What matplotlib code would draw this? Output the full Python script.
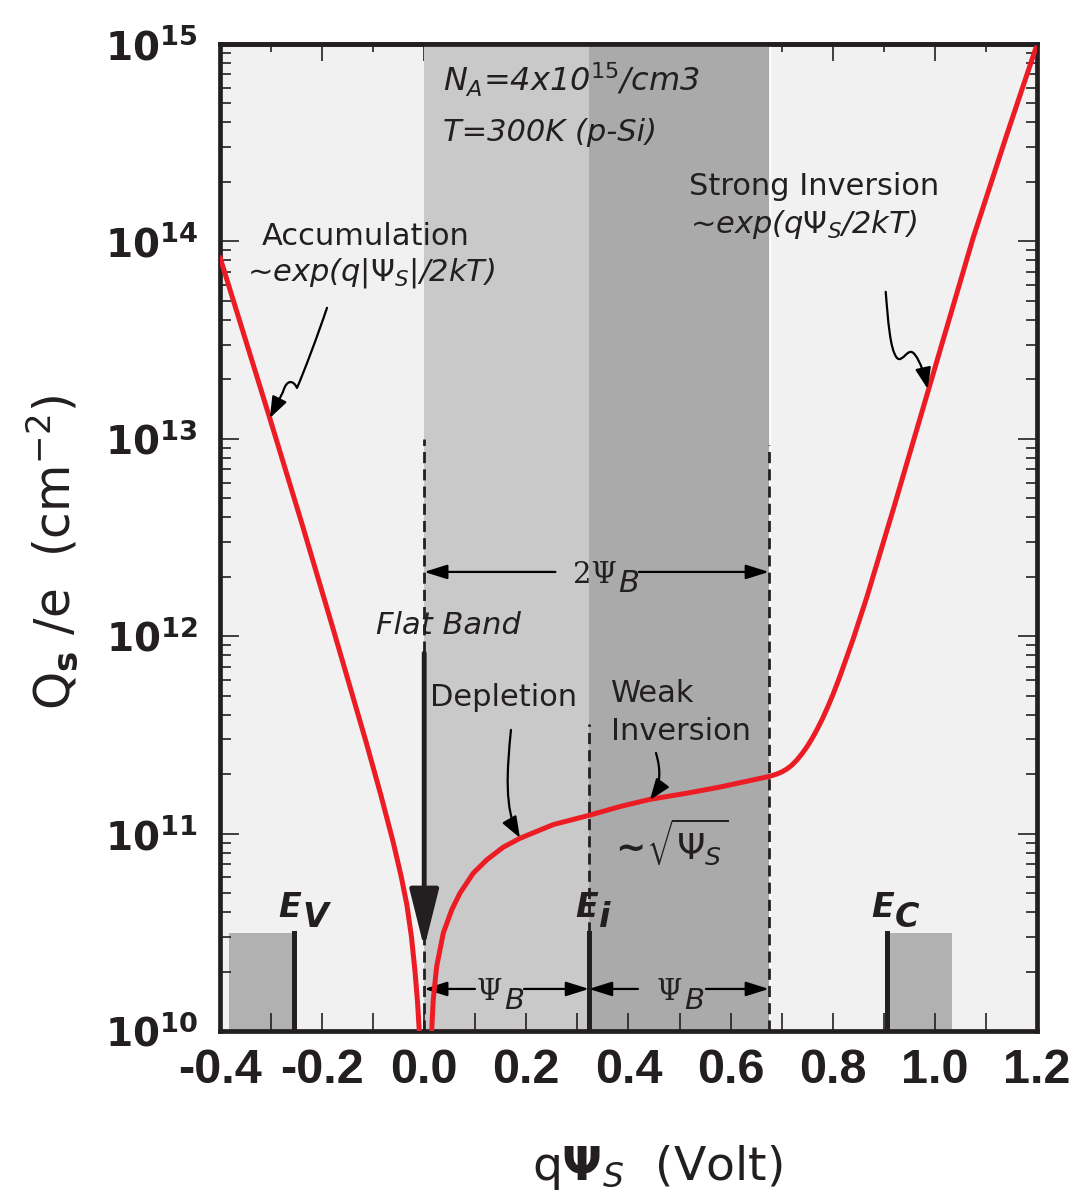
import numpy as np
import matplotlib
matplotlib.use("Agg")
import matplotlib.pyplot as plt
from matplotlib.ticker import MultipleLocator, LogLocator, NullFormatter
from matplotlib.path import Path
from matplotlib.patches import FancyArrowPatch

# surface charge Qs/e (cm^-2) vs surface potential (V)
acc_x = [-0.400, -0.302, -0.240, -0.178, -0.113, -0.085, -0.061, -0.045,
         -0.034, -0.025, -0.018, -0.013, -0.0097]
acc_q = [8.3e13, 1.26e13, 3.75e12, 1.08e12, 2.86e11, 1.57e11, 9.1e10, 6.05e10,
         4.36e10, 3.0e10, 2.0e10, 1.39e10, 1.0e10]

inv_x = [0.0146, 0.0177, 0.0244, 0.0373, 0.0538, 0.070, 0.0961, 0.1223, 0.1548, 0.1875,
         0.2528, 0.3246, 0.3834, 0.4421, 0.514, 0.5792, 0.677, 0.69, 0.70, 0.71,
         0.72, 0.73, 0.74, 0.75, 0.76, 0.77, 0.78, 0.79, 0.80, 0.814,
         0.84, 0.867, 0.919, 0.977, 1.075, 1.141, 1.198]
inv_q = [1.0e10, 1.44e10, 2.12e10, 3.13e10, 4.10e10, 4.99e10, 6.30e10, 7.35e10, 8.53e10, 9.46e10,
         1.11e11, 1.24e11, 1.37e11, 1.49e11, 1.60e11, 1.72e11, 1.95e11, 2.00e11, 2.05e11, 2.12e11,
         2.22e11, 2.36e11, 2.54e11, 2.76e11, 3.04e11, 3.39e11, 3.82e11, 4.36e11, 5.02e11, 6.24e11,
         9.66e11, 1.58e12, 4.42e12, 1.43e13, 1.04e14, 3.47e14, 9.55e14]

# band positions (V)
x_fb = 0.0        # flat band
x_ei = 0.3227     # intrinsic level, psi_B
x_2psib = 0.675   # 2 psi_B
x_ev = -0.255
x_ec = 0.906
ev_left = -0.383
ec_right = 1.034
box_top = 3.14e10

xtick_vals = [-0.4, -0.2, 0.0, 0.2, 0.4, 0.6, 0.8, 1.0, 1.2]
xtick_labels = ['-0.4', '-0.2', '0.0', '0.2', '0.4', '0.6', '0.8', '1.0', '1.2']
ytick_vals = [1e10, 1e11, 1e12, 1e13, 1e14, 1e15]
ytick_labels = [r'$\mathbf{10^{10}}$', r'$\mathbf{10^{11}}$', r'$\mathbf{10^{12}}$',
                r'$\mathbf{10^{13}}$', r'$\mathbf{10^{14}}$', r'$\mathbf{10^{15}}$']

plt.rcParams['mathtext.fontset'] = 'dejavusans'
INK = '#231f20'
RED = '#ec1c24'

fig = plt.figure(figsize=(10.73, 12.02), dpi=100)
ax = fig.add_axes([0.205, 0.1423, 0.7614, 0.8212])
ax.set_yscale('log')
ax.set_xlim(-0.4, 1.2)
ax.set_ylim(1e10, 1e15)
ax.set_facecolor('#f1f1f1')

# shaded regions
ax.axvspan(x_fb, x_ei, color='#c9c9c9', lw=0, zorder=0.5)
ax.axvspan(x_ei, x_2psib, color='#aaaaaa', lw=0, zorder=0.5)
ax.axvline(x_2psib + 0.003, color='white', lw=1, zorder=0.6)
ax.fill_between([ev_left, x_ev], 1e10, box_top, color='#b1b1b1', lw=0, zorder=0.7)
ax.fill_between([x_ec, ec_right], 1e10, box_top, color='#b1b1b1', lw=0, zorder=0.7)
for xb in (x_ev, x_ec, x_ei):
    ax.plot([xb, xb], [1e10, box_top], color=INK, lw=3.6, zorder=3)

dash = (0, (4, 2.2))
ax.plot([x_fb, x_fb], [1e10, 1e13], color=INK, lw=2.0, ls=dash, zorder=3)
ax.plot([x_2psib, x_2psib], [1e10, 9.3e12], color=INK, lw=2.0, ls=dash, zorder=3)
ax.plot([x_ei, x_ei], [box_top, 3.6e11], color=INK, lw=2.0, ls=dash, zorder=3)

# curve
ax.plot(acc_x, acc_q, color=RED, lw=3.6, solid_capstyle='round', solid_joinstyle='round', zorder=5)
ax.plot(inv_x, inv_q, color=RED, lw=3.6, solid_capstyle='round', solid_joinstyle='round', zorder=5)

# flat band arrow
ax.annotate('', xy=(x_fb, 2.63e10), xytext=(x_fb, 8.2e11),
            arrowprops=dict(arrowstyle='-|>,head_length=1.2,head_width=0.3', lw=3.5,
                            color=INK, mutation_scale=30, shrinkA=0, shrinkB=0), zorder=4)


def harrow(x0, x1, y):
    ax.annotate('', xy=(x1, y), xytext=(x0, y),
                arrowprops=dict(arrowstyle='-|>,head_length=0.7,head_width=0.22', lw=1.6,
                                color='black', mutation_scale=20, shrinkA=0, shrinkB=0), zorder=4)


y2 = 10 ** 12.3252
harrow(0.2569, x_fb, y2)
harrow(0.4206, x_2psib, y2)
y1 = 10 ** 10.2128
harrow(0.0994, x_fb, y1)
harrow(0.1954, x_ei, y1)
harrow(0.4186, x_ei, y1)
harrow(0.5518, x_2psib, y1)


def curly(pts):
    verts = [(x, 10 ** e) for x, e in pts]
    codes = [Path.MOVETO] + [Path.CURVE4] * (len(verts) - 1)
    arr = FancyArrowPatch(path=Path(verts, codes),
                          arrowstyle='-|>,head_length=0.8,head_width=0.3',
                          mutation_scale=16, lw=1.6, color='black', zorder=6)
    ax.add_patch(arr)


curly([(-0.1904, 13.663), (-0.2081, 13.526), (-0.2355, 13.338), (-0.2492, 13.257),
       (-0.2551, 13.293), (-0.2688, 13.308), (-0.2766, 13.237),
       (-0.2844, 13.197), (-0.2942, 13.146), (-0.3021, 13.105)])
curly([(0.9038, 13.744), (0.9083, 13.602), (0.9122, 13.450), (0.9259, 13.409),
       (0.9376, 13.379), (0.9474, 13.475), (0.9612, 13.425),
       (0.9720, 13.389), (0.9800, 13.323), (0.9860, 13.252)])
curly([(0.1699, 11.525), (0.1621, 11.322), (0.1562, 11.120), (0.1875, 10.978)])
curly([(0.4539, 11.408), (0.4637, 11.322), (0.4637, 11.246), (0.4421, 11.170)])

# labels
tk = dict(color=INK, fontsize=22, va='center', ha='left')
ax.text(0.037, 10 ** 14.818, r'$N_A$=4x10$^{15}$/cm3', style='italic',
        **{**tk, 'fontsize': 23})
ax.text(0.037, 10 ** 14.549, 'T=300K (p-Si)', style='italic', **tk)
ax.text(-0.3177, 10 ** 14.022, 'Accumulation', **tk)
ax.text(-0.3471, 10 ** 13.840, r'~exp(q|$\Psi_S$|/2kT)', style='italic', **tk)
ax.text(0.5185, 10 ** 14.276, 'Strong Inversion', **tk)
ax.text(0.5205, 10 ** 14.083, r'~exp(q$\Psi_S$/2kT)', style='italic', **tk)
ax.text(-0.0945, 10 ** 12.052, 'Flat Band', style='italic', **tk)
ax.text(0.0113, 10 ** 11.687, 'Depletion', **tk)
ax.text(0.3658, 10 ** 11.707, 'Weak', **tk)
ax.text(0.3658, 10 ** 11.515, 'Inversion', **tk)
ax.text(0.3599, 10 ** 10.957, r'$\mathbf{\sim}\!\sqrt{\Psi_S}$', color=INK, fontsize=26,
        va='center', ha='left')


def sub_text(x, e, main, sub, size, sub_size, drop, main_kw, sub_kw):
    t = ax.text(x, 10 ** e, main, fontsize=size, va='baseline', ha='left', color=INK, **main_kw)
    ax.annotate(sub, xy=(1, 0), xycoords=t, xytext=(1, -drop), textcoords='offset points',
                fontsize=sub_size, va='baseline', ha='left', color=INK, **sub_kw)


serif = dict(family='DejaVu Serif')
ital = dict(style='italic')
sub_text(0.2913, 12.2695, '2\u03a8', 'B', 21, 22, 2, serif, ital)
sub_text(0.1033, 10.157, '\u03a8', 'B', 21, 21, 2, serif, ital)
sub_text(0.4559, 10.157, '\u03a8', 'B', 21, 21, 2, serif, ital)

bi = dict(weight='bold', style='italic')
sub_text(-0.2864, 10.5775, 'E', 'V', 24, 24, 2, bi, bi)
sub_text(0.2953, 10.5775, 'E', 'i', 24, 24, 2, bi, bi)
sub_text(0.875, 10.5775, 'E', 'C', 24, 24, 2, bi, bi)

# axes, ticks
ax.set_xticks(xtick_vals, xtick_labels, fontsize=35, fontweight='bold',
              family=['Liberation Sans', 'DejaVu Sans'])
ax.xaxis.set_minor_locator(MultipleLocator(0.1))
ax.tick_params(axis='x', which='both', direction='in', length=13, width=1.2, color=INK,
               top=False, bottom=True, pad=12, labelcolor=INK)

ax.set_yticks(ytick_vals, ytick_labels, fontsize=28)
ax.yaxis.set_minor_locator(LogLocator(base=10, subs=np.arange(2, 10)))
ax.yaxis.set_minor_formatter(NullFormatter())
ax.tick_params(axis='y', which='major', direction='in', length=14, width=1.2, color=INK,
               left=True, right=True, pad=16, labelcolor=INK)
ax.tick_params(axis='y', which='minor', direction='in', length=8, width=1.2, color=INK,
               left=True, right=True)

sec = ax.secondary_xaxis('top')
sec.set_xticks(xtick_vals)
sec.xaxis.set_minor_locator(MultipleLocator(0.1))
sec.tick_params(axis='x', which='major', direction='in', length=12.5, width=1.2, color=INK,
                labeltop=False)
sec.tick_params(axis='x', which='minor', direction='in', length=5.5, width=1.2, color=INK)

for sp in ax.spines.values():
    sp.set_linewidth(3.4)
    sp.set_color(INK)
sec.spines['top'].set_linewidth(3.4)
sec.spines['top'].set_color(INK)

ax.set_ylabel(r'Q$_{\mathbf{s}}$ /e  (cm$^{-2}$)', fontsize=35, color=INK)
ax.yaxis.set_label_coords(-0.17, 0.485)
ax.set_xlabel(r'q$\mathbf{\Psi}_{S}$  (Volt)', fontsize=34, color=INK)
ax.xaxis.set_label_coords(0.535, -0.1135)

fig.savefig('out.png', dpi=100)
